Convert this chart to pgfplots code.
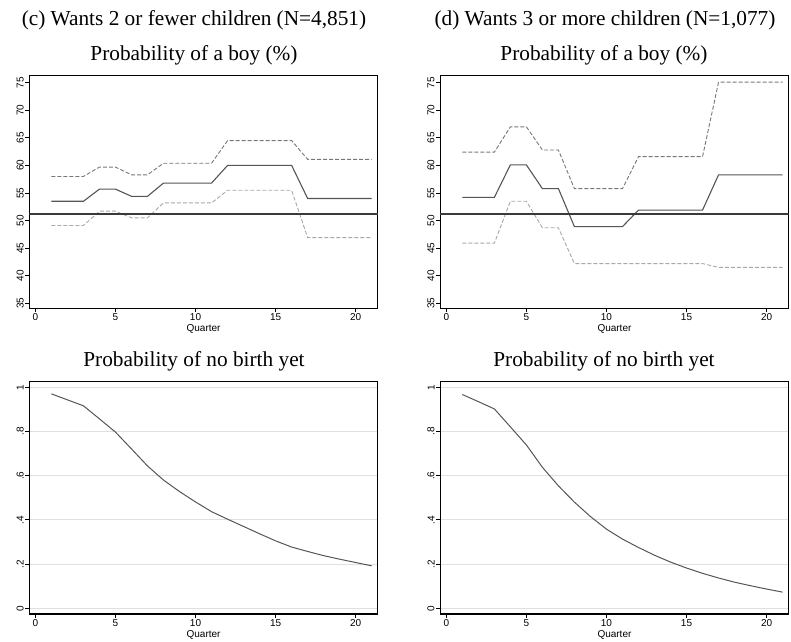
\documentclass[border=0pt]{standalone}
\usepackage{fontspec}
\usepackage{pgfplots}
\pgfplotsset{compat=1.18}
\setmainfont{Liberation Serif}
\newfontfamily\lsans{Liberation Sans}

\definecolor{estline}{HTML}{555555}
\definecolor{upband}{HTML}{777777}
\definecolor{loband}{HTML}{A8A8A8}
\definecolor{refline}{HTML}{3A3A3A}
\definecolor{gridgray}{HTML}{E0E0E0}

\newcommand{\ttl}{\fontsize{21.3}{24}\selectfont}

\pgfplotsset{
  panel/.style={
    scale only axis,
    width=348.5pt,
    xmin=-0.38, xmax=21.38,
    xtick={0,5,10,15,20},
    tick align=outside,
    major tick length=4pt,
    xtick pos=left, ytick pos=left,
    axis line style={black, line width=1.1pt},
    tick style={black, line width=0.8pt},
    tick label style={font=\lsans\fontsize{10}{10}\selectfont},
    yticklabel style={rotate=90, anchor=south, inner sep=1.5pt},
    xticklabel style={inner sep=1.5pt},
    /pgf/number format/assume math mode=true,
    xlabel={Quarter},
    xlabel style={font=\lsans\fontsize{10}{10}\selectfont,
      at={(axis description cs:0.5,0)}, anchor=center, yshift=-21pt},
  },
  boypanel/.style={
    panel,
    height=232.6pt,
    ymin=34.09, ymax=76.27,
    ytick={35,40,...,75},
  },
  birthpanel/.style={
    panel,
    height=232.3pt,
    ymin=-0.026, ymax=1.025,
    ytick={0,0.2,0.4,0.6,0.8,1},
    yticklabels={0,.2,.4,.6,.8,1},
    ymajorgrids,
    major grid style={gridgray, line width=1pt},
  },
  est/.style={estline, line width=1.1pt},
  upper/.style={upband, line width=0.9pt, dash pattern=on 4pt off 2pt},
  lower/.style={loband, line width=0.9pt, dash pattern=on 4pt off 2pt},
  ref/.style={refline, line width=1.1pt},
  surv/.style={estline, line width=1pt},
}

\begin{document}
\begin{tikzpicture}
\useasboundingbox (0pt,0pt) rectangle (791pt,-641pt);

\node[anchor=base, font=\ttl] at (194pt,-25pt) {(c) Wants 2 or fewer children (N=4,851)};
\node[anchor=base, font=\ttl] at (605pt,-25pt) {(d) Wants 3 or more children (N=1,077)};
\node[anchor=base, font=\ttl] at (194pt,-60.7pt) {Probability of a boy (\%)};
\node[anchor=base, font=\ttl] at (604pt,-60.7pt) {Probability of a boy (\%)};
\node[anchor=base, font=\ttl] at (194pt,-366.7pt) {Probability of no birth yet};
\node[anchor=base, font=\ttl] at (604pt,-366.7pt) {Probability of no birth yet};

% (c) probability of a boy
\begin{axis}[boypanel, at={(29.3pt,-75.7pt)}, anchor=north west]
\addplot[upper] coordinates {(1,58.0)(2,58.0)(3,58.0)(4,59.7)(5,59.7)(6,58.3)(7,58.3)
  (8,60.4)(9,60.4)(10,60.4)(11,60.4)(12,64.5)(13,64.5)(14,64.5)(15,64.5)(16,64.5)
  (17,61.1)(18,61.1)(19,61.1)(20,61.1)(21,61.1)};
\addplot[lower] coordinates {(1,49.1)(2,49.1)(3,49.1)(4,51.7)(5,51.7)(6,50.5)(7,50.5)
  (8,53.2)(9,53.2)(10,53.2)(11,53.2)(12,55.5)(13,55.5)(14,55.5)(15,55.5)(16,55.5)
  (17,46.9)(18,46.9)(19,46.9)(20,46.9)(21,46.9)};
\addplot[est] coordinates {(1,53.5)(2,53.5)(3,53.5)(4,55.7)(5,55.7)(6,54.4)(7,54.4)
  (8,56.8)(9,56.8)(10,56.8)(11,56.8)(12,60.0)(13,60.0)(14,60.0)(15,60.0)(16,60.0)
  (17,54.0)(18,54.0)(19,54.0)(20,54.0)(21,54.0)};
\addplot[ref] coordinates {(-0.38,51.2)(21.38,51.2)};
\end{axis}

% (d) probability of a boy
\begin{axis}[boypanel, at={(440.2pt,-75.7pt)}, anchor=north west]
\addplot[upper] coordinates {(1,62.4)(2,62.4)(3,62.4)(4,67.0)(5,67.0)(6,62.8)(7,62.8)
  (8,55.8)(9,55.8)(10,55.8)(11,55.8)(12,61.6)(13,61.6)(14,61.6)(15,61.6)(16,61.6)
  (17,75.1)(18,75.1)(19,75.1)(20,75.1)(21,75.1)};
\addplot[lower] coordinates {(1,45.9)(2,45.9)(3,45.9)(4,53.5)(5,53.5)(6,48.7)(7,48.7)
  (8,42.2)(9,42.2)(10,42.2)(11,42.2)(12,42.2)(13,42.2)(14,42.2)(15,42.2)(16,42.2)
  (17,41.5)(18,41.5)(19,41.5)(20,41.5)(21,41.5)};
\addplot[est] coordinates {(1,54.2)(2,54.2)(3,54.2)(4,60.1)(5,60.1)(6,55.8)(7,55.8)
  (8,48.9)(9,48.9)(10,48.9)(11,48.9)(12,51.9)(13,51.9)(14,51.9)(15,51.9)(16,51.9)
  (17,58.3)(18,58.3)(19,58.3)(20,58.3)(21,58.3)};
\addplot[ref] coordinates {(-0.38,51.2)(21.38,51.2)};
\end{axis}

% (c) probability of no birth yet
\begin{axis}[birthpanel, at={(29.3pt,-381.7pt)}, anchor=north west]
\addplot[surv] coordinates {(1,0.970)(2,0.943)(3,0.916)(4,0.857)(5,0.797)(6,0.721)
  (7,0.644)(8,0.580)(9,0.528)(10,0.481)(11,0.437)(12,0.403)(13,0.370)(14,0.337)
  (15,0.305)(16,0.277)(17,0.257)(18,0.238)(19,0.222)(20,0.207)(21,0.192)};
\end{axis}

% (d) probability of no birth yet
\begin{axis}[birthpanel, at={(440.2pt,-381.7pt)}, anchor=north west]
\addplot[surv] coordinates {(1,0.967)(2,0.935)(3,0.902)(4,0.821)(5,0.739)(6,0.638)
  (7,0.554)(8,0.480)(9,0.415)(10,0.358)(11,0.313)(12,0.275)(13,0.240)(14,0.209)
  (15,0.182)(16,0.158)(17,0.137)(18,0.118)(19,0.102)(20,0.087)(21,0.073)};
\end{axis}
\end{tikzpicture}
\end{document}
